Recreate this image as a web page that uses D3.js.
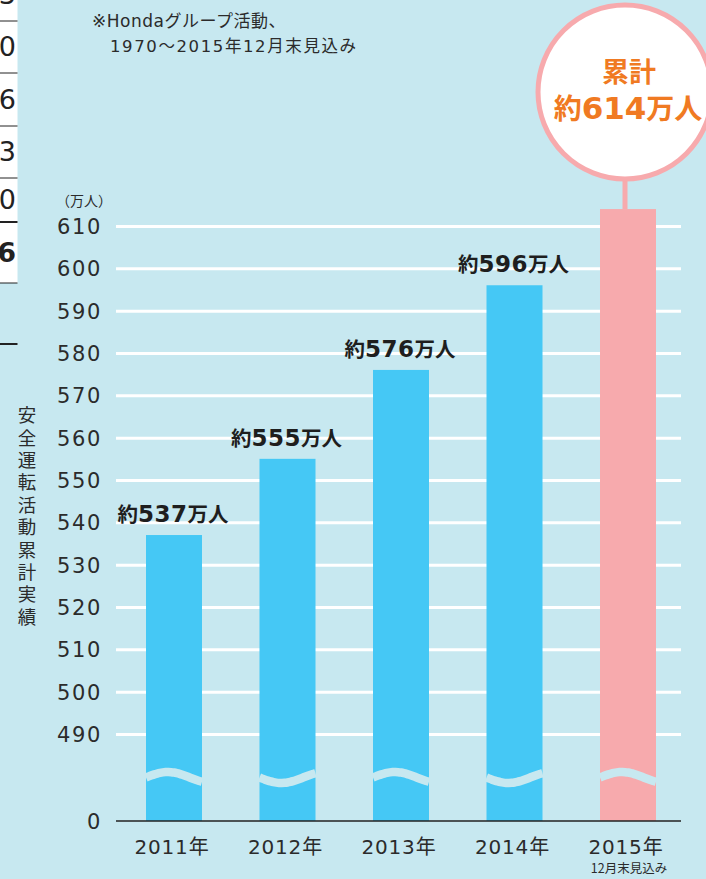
<!DOCTYPE html>
<html>
<head>
<meta charset="utf-8">
<script src="https://cdn.jsdelivr.net/npm/d3@7"></script>
<style>
  html, body { margin: 0; padding: 0; background: #c7e8f0; }
  svg { display: block; }
</style>
</head>
<body>
<div id="chart"></div>
<script>
// data
const years = ["2011", "2012", "2013", "2014", "2015"];
const values = [537, 555, 576, 596, 614];
const yTicks = [0, 490, 500, 510, 520, 530, 540, 550, 560, 570, 580, 590, 600, 610];
const xSubLabel = "12月末見込み";
const noteLines = ["※Hondaグループ活動、", "1970～2015年12月末見込み"];
const yTitle = "安全運転活動累計実績";
const yUnit = "（万人）";
const totalLines = ["累計", "約614万人"];
const tableDigits = ["3", "0", "6", "3", "0", "6"];

const W = 706, H = 879;
const bg = "#c7e8f0";
const blue = "#45c8f5";
const pink = "#f7aaad";
const ink = "#2b2b2b";
const numFont = '"DejaVu Sans", "Noto Sans CJK JP", sans-serif';
const jpFont = '"Noto Sans CJK JP", sans-serif';

const svg = d3.select("#chart").append("svg")
    .attr("width", W)
    .attr("height", H);

svg.append("rect").attr("width", W).attr("height", H).attr("fill", bg);

// cut-off table on the left edge
const tableRows = [-32, 21, 73, 126, 178, 222, 283];
svg.append("rect").attr("x", 0).attr("y", 0).attr("width", 17.5).attr("height", 283).attr("fill", "#fff");
tableDigits.forEach((d, i) => {
    svg.append("text")
        .attr("x", 16)
        .attr("y", (tableRows[i] + tableRows[i + 1]) / 2 + 9)
        .attr("text-anchor", "end")
        .attr("font-family", numFont)
        .attr("font-size", 27)
        .attr("font-weight", i === 5 ? "bold" : "normal")
        .attr("fill", "#222")
        .text(d);
});
tableRows.slice(1).forEach((ty, i) => {
    svg.append("line")
        .attr("x1", 0).attr("x2", 17.5)
        .attr("y1", ty).attr("y2", ty)
        .attr("stroke", "#222")
        .attr("stroke-width", i === 4 ? 2 : 1);
});
svg.append("line").attr("x1", 0).attr("x2", 17.5).attr("y1", 344).attr("y2", 344)
    .attr("stroke", "#222").attr("stroke-width", 2);

// scales: the value axis has a break between 0 and 490
const x = d3.scalePoint().domain(years).range([174, 628]);
const y = d3.scaleLinear().domain([0, 490, 610]).range([821, 734, 226]);
const barW = 56;
const gridLeft = 116, gridRight = 681;

// gridlines + tick labels
const axis = d3.axisLeft(y)
    .tickValues(yTicks)
    .tickSizeInner(-(gridRight - gridLeft))
    .tickSizeOuter(0)
    .tickPadding(14)
    .tickFormat(d3.format("d"));

const gAxis = svg.append("g")
    .attr("transform", `translate(${gridLeft},0)`)
    .call(axis);
gAxis.select(".domain").remove();
gAxis.selectAll(".tick line")
    .attr("stroke", "#fff")
    .attr("stroke-width", 3)
    .attr("opacity", d => d === 0 ? 0 : 1);
gAxis.selectAll(".tick text")
    .attr("font-family", numFont)
    .attr("font-size", 21)
    .attr("letter-spacing", 1.6)
    .attr("fill", ink)
    .attr("dy", "0.36em");

svg.append("text")
    .attr("x", 56).attr("y", 206)
    .attr("font-family", jpFont)
    .attr("font-size", 14)
    .attr("fill", ink)
    .text(yUnit);

// vertical title, one text set top to bottom
svg.append("text")
    .attr("x", 27)
    .attr("y", 406)
    .attr("writing-mode", "vertical-rl")
    .attr("font-family", jpFont)
    .attr("font-size", 18.5)
    .attr("letter-spacing", 3.9)
    .attr("fill", ink)
    .text(yTitle);

// bars
const last = years.length - 1;
svg.append("g").selectAll("rect")
    .data(values)
    .join("rect")
    .attr("x", (d, i) => x(years[i]) - barW / 2)
    .attr("y", d => y(d))
    .attr("width", barW)
    .attr("height", d => y(0) - y(d))
    .attr("fill", (d, i) => i === last ? pink : blue);

// wavy break across each bar
const waveY = y(245), waveA = 5.5;
const wave = d3.line().curve(d3.curveBasis);
years.forEach((yr, i) => {
    const x0 = x(yr) - barW / 2;
    const sgn = i % 2 === 0 ? -1 : 1;
    const pts = d3.range(0, 1.0001, 0.05).map(t =>
        [x0 + t * barW, waveY + sgn * waveA * Math.sin(Math.PI / 2 * t / 0.39)]);
    svg.append("path")
        .attr("d", wave(pts))
        .attr("fill", "none")
        .attr("stroke", bg)
        .attr("stroke-width", 8.5);
});

// baseline
svg.append("line")
    .attr("x1", gridLeft).attr("x2", gridRight)
    .attr("y1", y(0)).attr("y2", y(0))
    .attr("stroke", "#222")
    .attr("stroke-width", 1.5);

// value labels above bars
svg.append("g").selectAll("text")
    .data(values.slice(0, last))
    .join("text")
    .attr("x", (d, i) => x(years[i]) - 1)
    .attr("y", d => y(d) - 13)
    .attr("text-anchor", "middle")
    .attr("font-family", numFont)
    .attr("font-weight", "bold")
    .attr("font-size", 21)
    .attr("fill", "#1e1e1e")
    .each(function(d) {
        const t = d3.select(this);
        t.append("tspan").attr("font-family", jpFont).attr("font-size", 20.5).text("約");
        t.append("tspan").attr("font-size", 23).attr("letter-spacing", 0.5).text(d);
        t.append("tspan").attr("font-family", jpFont).attr("font-size", 20.5).text("万人");
    });

// x labels
svg.append("g").selectAll("text")
    .data(years)
    .join("text")
    .attr("x", d => x(d) - 2)
    .attr("y", 854)
    .attr("text-anchor", "middle")
    .attr("font-family", numFont)
    .attr("font-size", 20)
    .attr("letter-spacing", 0.8)
    .attr("fill", ink)
    .each(function(d) {
        const t = d3.select(this);
        t.append("tspan").text(d);
        t.append("tspan").attr("font-family", jpFont).text("年");
    });
svg.append("text")
    .attr("x", x(years[last]) + 1)
    .attr("y", 873)
    .attr("text-anchor", "middle")
    .attr("font-family", jpFont)
    .attr("font-size", 12.5)
    .attr("fill", ink)
    .text(xSubLabel);

// callout circle for the 2015 total
const cx = x(years[last]) - 3, cy = 92, r = 87;
svg.append("line")
    .attr("x1", cx).attr("x2", cx)
    .attr("y1", cy + r).attr("y2", y(values[last]))
    .attr("stroke", pink)
    .attr("stroke-width", 5);
svg.append("circle")
    .attr("cx", cx).attr("cy", cy).attr("r", r)
    .attr("fill", "#fff")
    .attr("stroke", pink)
    .attr("stroke-width", 5);
const orange = "#f07a22";
svg.append("text")
    .attr("x", cx + 4).attr("y", 82)
    .attr("text-anchor", "middle")
    .attr("font-family", jpFont)
    .attr("font-weight", "bold")
    .attr("font-size", 27)
    .attr("fill", orange)
    .text(totalLines[0]);
svg.append("text")
    .attr("x", cx + 3).attr("y", 119)
    .attr("text-anchor", "middle")
    .attr("font-family", numFont)
    .attr("font-weight", "bold")
    .attr("font-size", 31)
    .attr("fill", orange)
    .each(function() {
        const t = d3.select(this);
        t.append("tspan").attr("font-family", jpFont).attr("font-size", 28).text("約");
        t.append("tspan").text(values[last]);
        t.append("tspan").attr("font-family", jpFont).attr("font-size", 28).text("万人");
    });

// note
noteLines.forEach((line, i) => {
    svg.append("text")
        .attr("x", i === 0 ? 92 : 110)
        .attr("y", 27 + i * 24.5)
        .attr("font-family", numFont)
        .attr("font-size", i === 0 ? 17 : 16.5)
        .attr("letter-spacing", i === 0 ? 0.5 : 1.6)
        .attr("fill", ink)
        .text(line);
});
</script>
</body>
</html>
